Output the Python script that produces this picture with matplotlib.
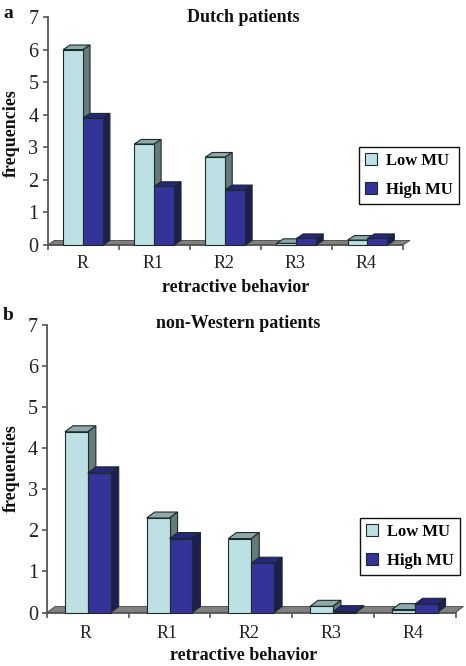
import matplotlib
matplotlib.use("Agg")
import matplotlib.pyplot as plt
from matplotlib.patches import Patch, Polygon, Rectangle

plt.rcParams['font.family'] = ['Liberation Serif', 'DejaVu Serif']

W, H = 466, 666

categories = ['R', 'R1', 'R2', 'R3', 'R4']
yticks = [0, 1, 2, 3, 4, 5, 6, 7]

dutch_low = [6.0, 3.1, 2.7, 0.05, 0.15]
dutch_high = [3.9, 1.8, 1.7, 0.2, 0.2]
western_low = [4.4, 2.3, 1.8, 0.15, 0.07]
western_high = [3.4, 1.8, 1.2, 0.02, 0.2]

LOW = ('#BCE0E3', '#8FA9AA', '#647A7B')
HIGH = ('#333399', '#26267A', '#1E1E52')
FLOOR = '#808080'
AXIS = '#555555'
EDGE = '#1c2a2a'

BAR_W = 0.28
DX = 0.098


def fig_ax(fig, left, right, top, bottom):
    return fig.add_axes([left / W, 1 - bottom / H, (right - left) / W, (bottom - top) / H])


def box3d(ax, x, val, dy, colors):
    face, top, side = colors
    ax.add_patch(Polygon([(x, val), (x + DX, val + dy), (x + BAR_W + DX, val + dy), (x + BAR_W, val)],
                         fc=top, ec=EDGE, lw=0.8, zorder=3, clip_on=False))
    ax.add_patch(Polygon([(x + BAR_W, 0), (x + BAR_W + DX, dy), (x + BAR_W + DX, val + dy), (x + BAR_W, val)],
                         fc=side, ec=EDGE, lw=0.8, zorder=3, clip_on=False))
    ax.add_patch(Rectangle((x, 0), BAR_W, val, fc=face, ec=EDGE, lw=0.8, zorder=3, clip_on=False))


def draw_panel(ax, low, high, dy):
    n = len(categories)
    ax.set_xlim(0, n)
    ax.set_ylim(0, 7)
    ax.add_patch(Polygon([(0, 0), (DX, dy), (n + DX, dy), (n, 0)], fc=FLOOR, ec='#444444', lw=0.6,
                         zorder=1, clip_on=False))
    for i in range(n):
        box3d(ax, i + 0.5 - BAR_W, low[i], dy, LOW)
        box3d(ax, i + 0.5, high[i], dy, HIGH)
    for s in ['top', 'right']:
        ax.spines[s].set_visible(False)
    for s in ['left', 'bottom']:
        ax.spines[s].set_color(AXIS)
        ax.spines[s].set_linewidth(1.3)
        ax.spines[s].set_zorder(2)
    ax.set_yticks(yticks)
    ax.set_xticks(range(n + 1))
    ax.set_xticklabels([])
    ax.tick_params(axis='y', labelsize=14.5, length=3.5, width=1.2, color=AXIS, pad=3, labelcolor='#222222')
    ax.tick_params(axis='x', length=3.5, width=1.2, color=AXIS)
    ax.patch.set_alpha(0)


def px_text(fig, x, y, s, **kw):
    fig.text(x / W, 1 - y / H, s, ha=kw.pop('ha', 'center'), va=kw.pop('va', 'center'), **kw)


def panel_legend(fig, ax, cx, cy):
    handles = [Patch(fc=LOW[0], ec=EDGE, lw=0.8, label='Low MU'),
               Patch(fc=HIGH[0], ec=EDGE, lw=0.8, label='High MU')]
    leg = ax.legend(handles=handles, loc='center', bbox_to_anchor=(cx / W, 1 - cy / H),
                    bbox_transform=fig.transFigure, fancybox=False, framealpha=1,
                    edgecolor='#111111', prop={'weight': 'bold', 'size': 12},
                    handlelength=0.72, handleheight=0.72, handletextpad=0.55, labelspacing=0.75,
                    borderpad=0.36, borderaxespad=0)
    leg.get_frame().set_linewidth(1.0)
    leg.set_zorder(5)


fig = plt.figure(figsize=(W / 100, H / 100), dpi=100)

ax_a = fig_ax(fig, 47.5, 403, 17, 245)
draw_panel(ax_a, dutch_low, dutch_high, 0.14)
panel_legend(fig, ax_a, 409, 175.5)

ax_b = fig_ax(fig, 47, 455.5, 325, 612.5)
draw_panel(ax_b, western_low, western_high, 0.146)
panel_legend(fig, ax_b, 410, 546.5)

for i, c in enumerate(categories):
    px_text(fig, 47.5 + (i + 0.5) * 71.1 - 1, 264, c, fontsize=13, color='#222222')
    px_text(fig, 47 + (i + 0.5) * 81.7 - 2, 633.5, c, fontsize=13, color='#222222')

bold = dict(fontweight='bold', color='#111111')
px_text(fig, 243, 17, 'Dutch patients', fontsize=13, **bold)
px_text(fig, 236, 287, 'retractive behavior', fontsize=13, **bold)
px_text(fig, 11, 133, 'frequencies', fontsize=13, rotation=90, **bold)
px_text(fig, 238, 323, 'non-Western patients', fontsize=13, **bold)
px_text(fig, 244, 656, 'retractive behavior', fontsize=13, **bold)
px_text(fig, 11, 468, 'frequencies', fontsize=13, rotation=90, **bold)
px_text(fig, 8, 13, 'a', fontsize=14, **bold)
px_text(fig, 8, 316, 'b', fontsize=14, **bold)

fig.savefig('out.png', dpi=100)
